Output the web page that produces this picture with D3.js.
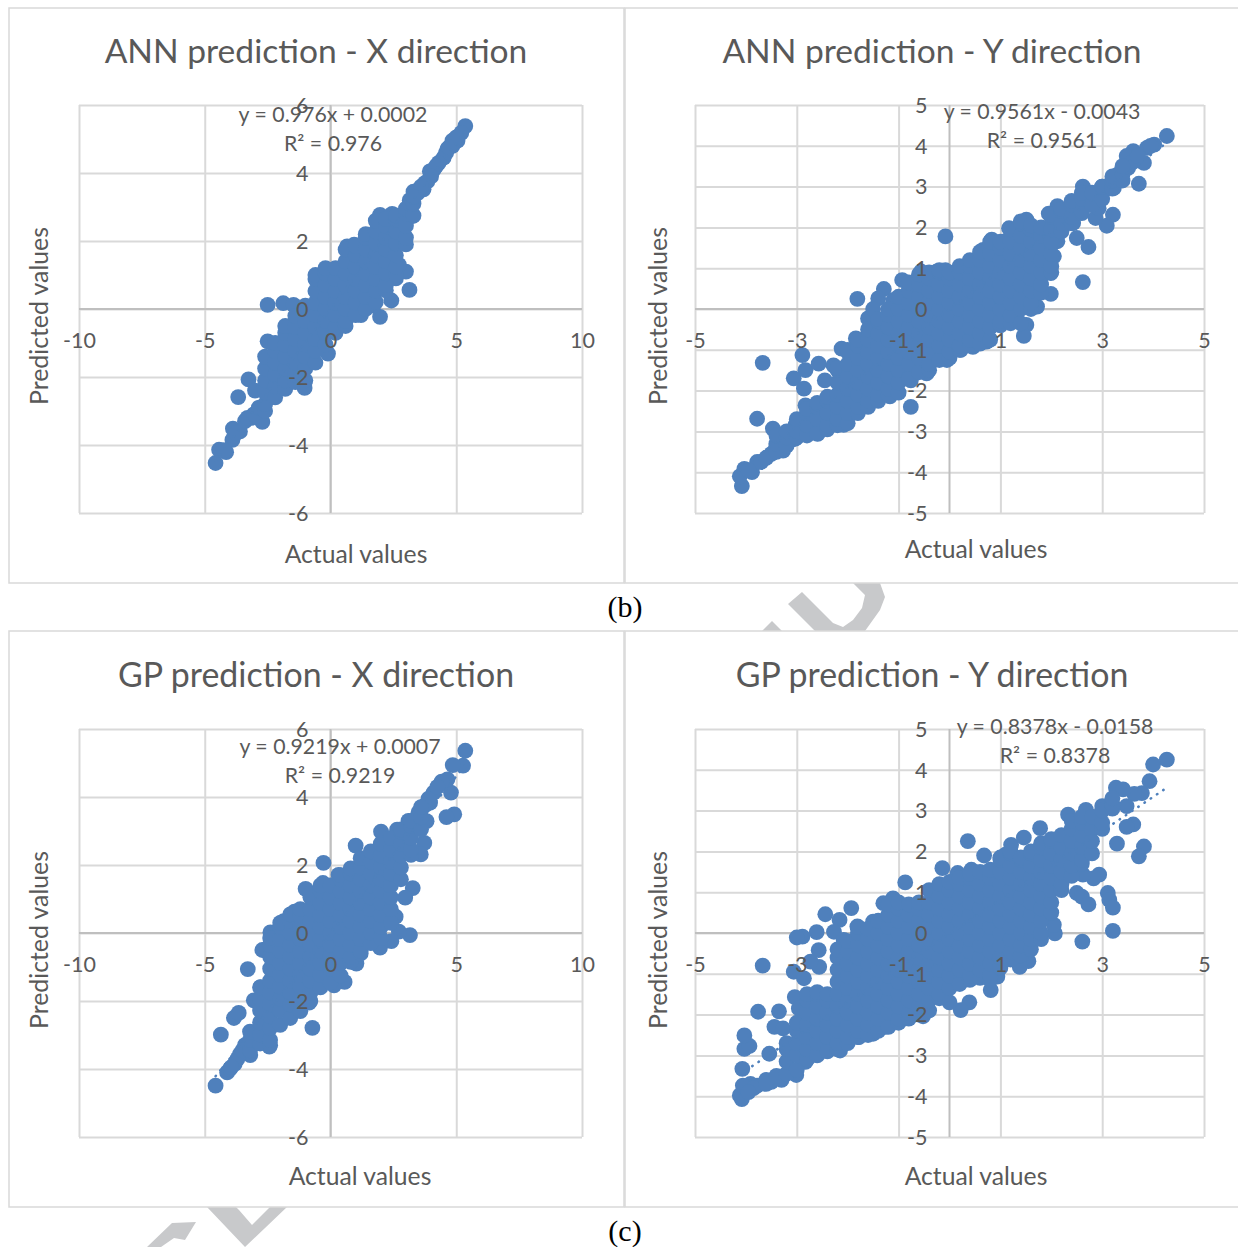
<!DOCTYPE html>
<html>
<head>
<meta charset="utf-8">
<title>ANN and GP predictions</title>
<script src="https://cdn.jsdelivr.net/npm/d3@7"></script>
<style>
  html, body { margin: 0; background: #fff; }
  svg { display: block; }
  text { font-family: Lato, "Open Sans", sans-serif; fill: #595959; }
  .caption { font-family: "Liberation Serif", serif; fill: #000; font-size: 30px; }
</style>
</head>
<body>
<script>
// tick labels
var wideTicks = [-10, -5, 0, 5, 10];
var wideRows = [-6, -4, -2, 0, 2, 4, 6];
var narrowTicks = [-5, -3, -1, 1, 3, 5];
var narrowRows = [-5, -4, -3, -2, -1, 0, 1, 2, 3, 4, 5];

// dense part of each cloud, one row per actual value: [actual, predicted, predicted, ...]
// stray dots and the rim are kept apart as [actual, predicted]
var annXCore = [
  [-2.6,-3.0,-2.8,-2.45,-2.1,-1.75,-1.4],
  [-2.2,-2.6,-2.28,-1.93,-1.58,-1.23,-1.0],
  [-1.8,-2.35,-2.1,-1.75,-1.4,-1.05,-0.7,-0.5],
  [-1.4,-2.15,-1.93,-1.58,-1.23,-0.88,-0.53,-0.2],
  [-1.0,-2.1,-1.75,-1.4,-1.05,-0.7,-0.35,0,0.1],
  [-0.6,-1.58,-1.23,-0.88,-0.53,-0.18,0.18,0.53,0.88,1.0],
  [-0.2,-1.05,-0.7,-0.35,0,0.35,0.7,1.05,1.2],
  [0.2,-0.7,-0.53,-0.18,0.18,0.53,0.88,1.2],
  [0.6,-0.5,-0.35,0,0.35,0.7,1.05,1.4,1.75],
  [1.0,-0.18,0.18,0.53,0.88,1.23,1.58,1.85],
  [1.4,0,0.35,0.7,1.05,1.4,1.75,2.1,2.2],
  [1.8,0.2,0.53,0.88,1.23,1.58,1.93,2.28,2.6],
  [2.2,0.55,0.7,1.05,1.4,1.75,2.1,2.45,2.65],
  [2.6,1.0,1.23,1.58,1.93,2.28,2.63,2.75],
  [3.0,1.9,2.1,2.45,2.8,2.95],
  [3.3,2.75,3.1,3.3]
];
var annXStray = [
  [5.36,5.38],[5.2,5.18],[5.05,4.95],[4.85,4.95],[4.85,4.8],[4.65,4.7],[4.6,4.6],[4.5,4.45],
  [4.3,4.3],[4.1,4.1],[3.95,4.05],[3.85,3.75],[3.75,3.7],[3.7,3.52],[3.5,3.5],[3.45,3.4],[3.3,3.45],
  [3.28,2.74],[3.14,0.56],[2.42,0.25],[1.97,-0.23],[1.7,0.1],[1.21,-0.18],[3.0,1.1],[2.72,1.3],
  [2.6,0.9],[2.18,0.65],[-2.5,0.12],[-1.88,0.17],[-1.47,0.12],[-2.5,-0.95],[-3.26,-2.07],
  [-3.67,-2.59],[-3.0,-2.4],[-2.71,-3.32],[-1.03,-2.32],[-0.1,-1.31],[-4.57,-4.53],[-4.43,-4.14],
  [-4.15,-4.21],[-3.88,-3.52],[-3.9,-3.85],[-3.6,-3.6],[-3.4,-3.3],[-3.15,-3.2],[1.97,2.77],[2.45,2.8],
  [0.66,1.84],[0.94,1.89],[-4.25,-4.15],[-3.75,-3.65],[-3.3,-3.2],[-3.05,-3.1],[-2.85,-2.9],
  [5.0,5.05],[4.7,4.75],[4.2,4.2],[4.0,3.9],[3.6,3.6],[3.15,3.2]
];

var annYCore = [
  [-3.4,-3.5,-3.3,-3.1],[-3.2,-3.35,-3.15,-3.0],[-3.0,-3.15,-3,-2.7],[-2.8,-3.1,-2.85,-2.55,-2.45],
  [-2.6,-3.05,-2.7,-2.4,-2.3],[-2.4,-2.95,-2.85,-2.55,-2.25,-2.15],
  [-2.2,-2.85,-2.7,-2.4,-2.1,-1.8,-1.5,-1.45],
  [-2.0,-2.8,-2.55,-2.25,-1.95,-1.65,-1.35,-1.05,-1.0],
  [-1.8,-2.55,-2.4,-2.1,-1.8,-1.5,-1.2,-0.9,-0.75],
  [-1.6,-2.4,-2.25,-1.95,-1.65,-1.35,-1.05,-0.75,-0.5],
  [-1.4,-2.25,-2.1,-1.8,-1.5,-1.2,-0.9,-0.6,-0.3,-0.25],
  [-1.2,-2.1,-1.95,-1.65,-1.35,-1.05,-0.75,-0.45,-0.15,0],
  [-1.0,-2.05,-1.8,-1.5,-1.2,-0.9,-0.6,-0.3,0,0.3],
  [-0.8,-1.7,-1.35,-1.05,-0.75,-0.45,-0.15,0.15,0.45,0.65],
  [-0.6,-1.55,-1.2,-0.9,-0.6,-0.3,0,0.3,0.6,0.85],
  [-0.4,-1.5,-1.35,-1.05,-0.75,-0.45,-0.15,0.15,0.45,0.75,0.9],
  [-0.2,-1.25,-0.9,-0.6,-0.3,0,0.3,0.6,0.9,0.95],
  [0,-1.2,-1.05,-0.75,-0.45,-0.15,0.15,0.45,0.75,0.9],
  [0.2,-1.0,-0.9,-0.6,-0.3,0,0.3,0.6,0.9,1.05],
  [0.4,-0.9,-0.75,-0.45,-0.15,0.15,0.45,0.75,1.05,1.2],
  [0.6,-0.85,-0.6,-0.3,0,0.3,0.6,0.9,1.2,1.4],
  [0.8,-0.75,-0.45,-0.15,0.15,0.45,0.75,1.05,1.35,1.65],
  [1.0,-0.4,-0.3,0,0.3,0.6,0.9,1.2,1.5,1.65],
  [1.2,-0.35,-0.15,0.15,0.45,0.75,1.05,1.35,1.65,1.95],
  [1.4,-0.35,0,0.3,0.6,0.9,1.2,1.5,1.8,2.1,2.15],
  [1.6,0,0.15,0.45,0.75,1.05,1.35,1.65,1.95,2.05],
  [1.8,0.4,0.6,0.9,1.2,1.5,1.8,2.0],
  [2.0,0.9,1.05,1.35,1.65,1.95,2.25,2.3],
  [2.2,1.9,2.1,2.4,2.45],[2.4,2.1,2.25,2.55,2.65],[2.6,2.35,2.4,2.7,2.85],[2.8,2.55,2.85],
  [3.0,2.7,3.0],[3.2,2.95,3.15,3.25],[3.4,3.15,3.3,3.5]
];
var annYStray = [
  [4.27,4.24],[4.02,4.03],[3.88,3.95],[3.61,3.87],[3.48,3.75],[3.82,3.58],[3.72,3.07],[3.51,3.46],
  [3.31,3.3],[3.23,2.97],[3.21,2.31],[3.09,2.04],[2.87,2.23],[2.93,2.47],[2.62,3.0],[2.73,2.8],
  [2.97,2.84],[2.5,2.64],[2.12,2.52],[1.95,2.34],[2.43,2.11],[2.5,1.74],[2.73,1.52],[2.62,0.66],
  [1.99,0.37],[1.72,0.06],[1.51,-0.39],[1.46,-0.66],[0.73,-0.8],[0.46,-0.93],[0.22,-1.0],[-0.05,-1.25],
  [-0.45,-1.58],[-0.76,-1.75],[-0.76,-2.4],[-1.17,-2.14],[-1.47,-2.24],[-1.88,-2.52],[-2.08,-2.84],
  [-2.59,-3.06],[-3.03,-3.18],[-3.27,-3.47],[-3.5,-3.55],[-3.7,-3.75],[-3.88,-4.0],[-4.08,-4.34],
  [-4.12,-4.1],[-4.03,-3.92],[-3.78,-3.75],[-3.47,-2.93],[-3.35,-3.1],[-3.78,-2.69],[-3.67,-1.32],
  [-2.89,-1.13],[-3.06,-1.7],[-2.83,-1.5],[-2.86,-1.95],[-2.57,-1.34],[-2.45,-1.75],[-2.83,-2.36],
  [-3.03,-2.85],[-2.28,-1.38],[-2.12,-0.97],[-1.84,-0.72],[-1.6,-0.23],[-1.81,0.25],[-1.29,0.49],
  [-1.4,0.26],[-1.5,0],[-1.1,0.22],[-0.93,0.71],[-0.56,0.92],[-0.25,0.92],[-0.08,0.95],[-0.08,1.78],
  [0.26,1.04],[0.66,1.45],[0.83,1.7],[1.1,1.66],[1.17,1.98],[1.51,2.19],[1.75,1.94],[2.12,1.66],
  [2.05,1.29],[1.99,0.88],[1.78,0.71],[3.0,3.0],[3.6,3.6],[2.2,2.2],[-3.95,-3.95],[-3.6,-3.65],
  [-3.4,-3.35],[-3.1,-3.2],[3.7,3.75],[3.95,4.0]
];

var gpXCore = [
  [-3.2,-3.45,-3.15,-2.9],
  [-2.8,-3.25,-2.98,-2.63,-2.28,-1.93,-1.6],
  [-2.4,-3.3,-3.15,-2.8,-2.45,-2.1,-1.75,-1.4,-1.05,-0.7,-0.35,-0.15],
  [-2.0,-2.7,-2.28,-1.93,-1.58,-1.23,-0.88,-0.53,-0.18,0.18,0.3],
  [-1.6,-2.5,-2.1,-1.75,-1.4,-1.05,-0.7,-0.35,0,0.35,0.55],
  [-1.2,-2.3,-1.93,-1.58,-1.23,-0.88,-0.53,-0.18,0.18,0.53,0.7],
  [-0.8,-2.0,-1.75,-1.4,-1.05,-0.7,-0.35,0,0.35,0.7,1.05,1.15],
  [-0.4,-1.6,-1.23,-0.88,-0.53,-0.18,0.18,0.53,0.88,1.23,1.4],
  [0,-1.45,-1.05,-0.7,-0.35,0,0.35,0.7,1.05,1.4],
  [0.4,-1.25,-0.88,-0.53,-0.18,0.18,0.53,0.88,1.23,1.58,1.7],
  [0.8,-0.85,-0.7,-0.35,0,0.35,0.7,1.05,1.4,1.75,1.9],
  [1.2,-0.6,-0.53,-0.18,0.18,0.53,0.88,1.23,1.58,1.93,2.2],
  [1.6,-0.3,0,0.35,0.7,1.05,1.4,1.75,2.1,2.4],
  [2.0,-0.15,0.18,0.53,0.88,1.23,1.58,1.93,2.28,2.63],
  [2.4,0.3,0.7,1.05,1.4,1.75,2.1,2.45,2.8],
  [2.8,1.58,1.93,2.28,2.63,2.98,3.05],
  [3.2,2.3,2.45,2.8,3.15,3.3],
  [3.6,3.05,3.4,3.7]
];
var gpXStray = [
  [5.36,5.36],[5.27,4.92],[4.86,4.94],[4.79,4.13],[4.92,3.49],[4.61,3.41],[4.65,4.52],[4.42,4.45],
  [4.1,4.13],[3.96,3.83],[3.73,2.65],[3.59,2.31],[3.82,3.29],[3.27,1.32],[2.97,1.04],[2.59,0.48],
  [3.16,-0.06],[2.72,0.04],[2.42,-0.24],[1.97,-0.43],[1.49,-0.26],[1.03,-0.9],[0.56,-1.44],[0.14,-1.54],
  [-0.72,-2.79],[-2.43,-3.34],[-3.19,-3.59],[-4.36,-2.99],[-3.84,-2.5],[-3.65,-2.35],[-3.29,-1.06],
  [-2.61,-0.5],[-2.39,0.02],[-1.86,0.35],[-1.43,0.63],[-0.99,1.3],[-0.28,2.06],[-0.3,1.47],[0.32,1.71],
  [1.0,2.57],[2.01,2.98],[2.65,3.04],[3.1,3.3],[-4.57,-4.49],[-4.11,-4.1],[-3.81,-3.85],[-3.6,-3.56],
  [-3.4,-3.3],[3.9,3.95],[3.5,3.55],[-0.85,-2.05],[-3.05,-1.98],[-2.78,-1.59],[-2.71,-0.5],
  [-4.0,-4.0],[-3.7,-3.7],[-3.5,-3.45],[-3.95,-3.95],[4.25,4.3],[3.75,3.75]
];

var gpYCore = [
  [-3.6,-3.7],[-3.4,-3.5],
  [-3.2,-3.45,-3.15,-2.85,-2.7],
  [-3.0,-3.35,-3,-2.7,-2.4,-2.2],
  [-2.8,-3.1,-2.85,-2.55,-2.25,-1.95,-1.65,-1.5],
  [-2.6,-3.0,-2.7,-2.4,-2.1,-1.8,-1.5,-1.45],
  [-2.4,-2.9,-2.55,-2.25,-1.95,-1.65,-1.5],
  [-2.2,-2.85,-2.7,-2.4,-2.1,-1.8,-1.5,-1.2,-0.9,-0.6,-0.4],
  [-2.0,-2.7,-2.55,-2.25,-1.95,-1.65,-1.35,-1.05,-0.75,-0.45,-0.2],
  [-1.8,-2.55,-2.4,-2.1,-1.8,-1.5,-1.2,-0.9,-0.6,-0.3,0,0.15],
  [-1.6,-2.5,-2.25,-1.95,-1.65,-1.35,-1.05,-0.75,-0.45,-0.15,0.1],
  [-1.4,-2.4,-2.1,-1.8,-1.5,-1.2,-0.9,-0.6,-0.3,0,0.3],
  [-1.2,-2.3,-1.95,-1.65,-1.35,-1.05,-0.75,-0.45,-0.15,0.15,0.45,0.7],
  [-1.0,-2.2,-2.1,-1.8,-1.5,-1.2,-0.9,-0.6,-0.3,0,0.3,0.6,0.75],
  [-0.8,-2.1,-1.95,-1.65,-1.35,-1.05,-0.75,-0.45,-0.15,0.15,0.45,0.7],
  [-0.6,-2.0,-1.8,-1.5,-1.2,-0.9,-0.6,-0.3,0,0.3,0.6,0.75],
  [-0.4,-1.9,-1.65,-1.35,-1.05,-0.75,-0.45,-0.15,0.15,0.45,0.75,1.05],
  [-0.2,-1.6,-1.5,-1.2,-0.9,-0.6,-0.3,0,0.3,0.6,0.9,1.2],
  [0,-1.7,-1.35,-1.05,-0.75,-0.45,-0.15,0.15,0.45,0.75,1.05,1.25],
  [0.2,-1.25,-0.9,-0.6,-0.3,0,0.3,0.6,0.9,1.2,1.35],
  [0.4,-1.15,-1.05,-0.75,-0.45,-0.15,0.15,0.45,0.75,1.05,1.35,1.45],
  [0.6,-1.1,-0.9,-0.6,-0.3,0,0.3,0.6,0.9,1.2,1.5],
  [0.8,-1.15,-1.05,-0.75,-0.45,-0.15,0.15,0.45,0.75,1.05,1.35,1.55],
  [1.0,-0.85,-0.6,-0.3,0,0.3,0.6,0.9,1.2,1.5,1.8,1.85],
  [1.2,-0.65,-0.45,-0.15,0.15,0.45,0.75,1.05,1.35,1.65,1.95,2.0],
  [1.4,-0.55,-0.3,0,0.3,0.6,0.9,1.2,1.5,1.8,1.85],
  [1.6,-0.4,-0.15,0.15,0.45,0.75,1.05,1.35,1.65,1.95,2.0],
  [1.8,-0.15,0,0.3,0.6,0.9,1.2,1.5,1.8,2.1,2.2],
  [2.0,0.5,0.75,1.05,1.35,1.65,1.95,2.25,2.3],
  [2.2,1.05,1.2,1.5,1.8,2.1,2.4],
  [2.4,1.4,1.65,1.95,2.25,2.55,2.75],
  [2.6,1.7,1.8,2.1,2.4,2.7,2.85],
  [2.8,1.95,2.25,2.55,2.85],
  [3.0,2.55,2.7,3.0],
  [3.2,3.05,3.15,3.3]
];
var gpYStray = [
  [4.27,4.25],[4.0,4.13],[3.93,3.72],[3.78,3.43],[3.63,3.41],[3.27,3.56],[3.41,3.52],[3.48,3.11],
  [3.61,2.66],[3.48,2.6],[3.29,2.19],[3.82,2.12],[3.72,1.88],[2.94,1.43],[2.83,1.34],[2.62,1.43],
  [2.5,0.98],[2.6,0.89],[2.73,0.7],[3.11,0.98],[3.14,0.81],[3.21,0.62],[3.21,0.05],[2.61,-0.21],
  [2.07,-0.01],[2.05,0.2],[1.55,-0.69],[1.38,-0.83],[0.94,-1.07],[0.81,-1.4],[0.39,-1.7],[0.22,-1.89],
  [-0.52,-2.04],[-1.27,-2.3],[-1.5,-2.47],[-1.78,-2.55],[-2.15,-2.88],[-2.39,-2.88],[-2.83,-3.16],
  [-3.01,-3.48],[-3.37,-3.53],[-3.78,-3.74],[-3.91,-3.7],[-4.08,-4.07],[-4.12,-3.98],[-4.06,-3.74],
  [-4.07,-3.33],[-4.03,-2.84],[-3.93,-2.77],[-4.03,-2.51],[-3.76,-1.93],[-3.35,-1.92],[-3.44,-2.3],
  [-3.67,-0.8],[-3.06,-0.95],[-3.04,-1.57],[-2.96,-1.85],[-2.89,-0.09],[-3.0,-0.11],[-2.61,0.02],
  [-2.44,0.46],[-1.93,0.61],[-2.16,0.32],[-2.27,0.03],[-2.57,-0.42],[-2.56,-0.83],[-2.73,-0.7],
  [-2.86,-1.11],[-1.81,0.16],[-2.08,-0.17],[-1.5,0.28],[-1.3,0.73],[-1.11,0.85],[-0.87,1.24],
  [-0.14,1.59],[0.16,1.47],[0.43,1.55],[0.36,2.25],[0.68,1.9],[1.21,2.16],[1.1,1.92],[1.46,2.34],
  [1.78,2.57],[2.33,2.9],[2.68,3.02],[3.0,3.11],[2.19,2.37],[-3.54,-2.96],[-3.27,-2.34],[-3.6,-3.6],
  [-3.85,-3.8],[-3.5,-3.65],[-3.95,-3.9],[-3.3,-3.6]
];

// the four charts, in reading order
var panels = [
  { title: 'ANN prediction - X direction', core: annXCore, stray: annXStray,
    slope: 0.976, intercept: 0.0002, eq: 'y = 0.976x + 0.0002', r2: 'R\u00b2 = 0.976',
    xTicks: wideTicks, xMax: 10, yTicks: wideRows, yMax: 6,
    left: 79, right: 582, top: 105, eqX: 333, eqY: 115, xTitleX: 356, xTitleY: 554, titleY: 51, titleSize: 33.6 },
  { title: 'ANN prediction - Y direction', core: annYCore, stray: annYStray,
    slope: 0.9561, intercept: -0.0043, eq: 'y = 0.9561x - 0.0043', r2: 'R\u00b2 = 0.9561',
    xTicks: narrowTicks, xMax: 5, yTicks: narrowRows, yMax: 5,
    left: 695, right: 1204, top: 105, eqX: 1042, eqY: 112, xTitleX: 976, xTitleY: 549, titleY: 51, titleSize: 33.6 },
  { title: 'GP prediction - X direction', core: gpXCore, stray: gpXStray,
    slope: 0.9219, intercept: 0.0007, eq: 'y = 0.9219x + 0.0007', r2: 'R\u00b2 = 0.9219',
    xTicks: wideTicks, xMax: 10, yTicks: wideRows, yMax: 6,
    left: 79, right: 582, top: 729, eqX: 340, eqY: 747, xTitleX: 360, xTitleY: 1176, titleY: 675, titleSize: 33.9 },
  { title: 'GP prediction - Y direction', core: gpYCore, stray: gpYStray,
    slope: 0.8378, intercept: -0.0158, eq: 'y = 0.8378x - 0.0158', r2: 'R\u00b2 = 0.8378',
    xTicks: narrowTicks, xMax: 5, yTicks: narrowRows, yMax: 5,
    left: 695, right: 1204, top: 729, eqX: 1055, eqY: 727, xTitleX: 976, xTitleY: 1176, titleY: 675, titleSize: 33.9 }
];

var svg = d3.select('body').append('svg')
  .attr('width', 1238)
  .attr('height', 1247);

// bits of the grey watermark that show between the charts
var watermark = svg.append('g').attr('fill', '#c8c9cb');
[
  'M853,583 L865,595 L862,608 L853,620 L843,627 L833,623 L802,592 L788,604 L815,631 L865,631 L880,610 L885,597 L880,583 Z',
  'M762,631 L772,621 L782,631 Z',
  'M207,1207 L245,1247 L287,1207 L270,1207 L252,1225 L239,1210 L236,1207 Z',
  'M147,1247 L172,1223 L196,1222 L185,1240 L174,1238 L161,1247 Z'
].forEach(function(d) {
  watermark.append('path').attr('d', d);
});

// frames
var frameColor = '#d9d9d9';
[[9, 8, 615, 575], [625, 8, 620, 575], [9, 631, 615, 576], [625, 631, 620, 576]].forEach(function(f) {
  svg.append('rect')
    .attr('x', f[0]).attr('y', f[1])
    .attr('width', f[2]).attr('height', f[3])
    .attr('fill', 'none')
    .attr('stroke', frameColor)
    .attr('stroke-width', 1.5);
});

panels.forEach(function(p) {
  var height = 408;
  var x = d3.scaleLinear().domain([-p.xMax, p.xMax]).range([p.left, p.right]);
  var y = d3.scaleLinear().domain([-p.yMax, p.yMax]).range([p.top + height, p.top]);
  var g = svg.append('g');

  // gridlines
  g.append('g')
    .attr('class', 'grid')
    .attr('transform', 'translate(0,' + (p.top + height) + ')')
    .call(d3.axisBottom(x).tickValues(p.xTicks).tickSize(-height).tickFormat(''));
  g.append('g')
    .attr('class', 'grid')
    .attr('transform', 'translate(' + p.left + ',0)')
    .call(d3.axisLeft(y).tickValues(p.yTicks).tickSize(-(p.right - p.left)).tickFormat(''));
  g.selectAll('.grid .domain').remove();
  g.selectAll('.grid line').attr('stroke', frameColor).attr('stroke-width', 2);

  // the axes cross at zero
  g.append('line')
    .attr('x1', x(0)).attr('x2', x(0))
    .attr('y1', p.top).attr('y2', p.top + height)
    .attr('stroke', '#bfbfbf').attr('stroke-width', 2);
  g.append('line')
    .attr('x1', p.left).attr('x2', p.right)
    .attr('y1', y(0)).attr('y2', y(0))
    .attr('stroke', '#bfbfbf').attr('stroke-width', 2);

  // dots
  var points = p.stray.slice();
  p.core.forEach(function(row) {
    row.slice(1).forEach(function(v) { points.push([row[0], v]); });
  });
  g.append('g')
    .selectAll('circle')
    .data(points)
    .join('circle')
    .attr('cx', function(d) { return x(d[0]); })
    .attr('cy', function(d) { return y(d[1]); })
    .attr('r', 7.9)
    .attr('fill', '#4f80bc');

  // dotted trendline over the whole x range of the dots
  var xs = d3.extent(points, function(d) { return d[0]; });
  g.append('line')
    .attr('x1', x(xs[0])).attr('y1', y(p.slope * xs[0] + p.intercept))
    .attr('x2', x(xs[1])).attr('y2', y(p.slope * xs[1] + p.intercept))
    .attr('stroke', '#4f80bc')
    .attr('stroke-width', 2.5)
    .attr('stroke-linecap', 'round')
    .attr('stroke-dasharray', '0.5,7');

  // tick labels sit on top of the dots
  var xAxis = g.append('g')
    .attr('transform', 'translate(0,' + y(0) + ')')
    .call(d3.axisBottom(x).tickValues(p.xTicks).tickSize(0).tickPadding(24).tickFormat(String));
  var yAxis = g.append('g')
    .attr('transform', 'translate(' + x(0) + ',0.5)')
    .call(d3.axisLeft(y).tickValues(p.yTicks).tickSize(0).tickPadding(22).tickFormat(String));
  [xAxis, yAxis].forEach(function(a) {
    a.select('.domain').remove();
    a.selectAll('text').style('font-size', '21.5px').attr('fill', '#595959');
    a.attr('font-family', null);
  });

  // titles
  g.append('text')
    .attr('x', 316 + (p.left > 500 ? 616 : 0)).attr('y', p.titleY)
    .attr('dy', '.35em')
    .attr('text-anchor', 'middle')
    .style('font-size', p.titleSize + 'px')
    .text(p.title);
  g.append('text')
    .attr('x', p.xTitleX).attr('y', p.xTitleY + 1)
    .attr('dy', '.32em')
    .attr('text-anchor', 'middle')
    .style('font-size', '24.7px')
    .text('Actual values');
  g.append('text')
    .attr('transform', 'translate(' + (p.left > 500 ? 658 : 39) + ',' + (p.top + 211) + ') rotate(-90)')
    .attr('dy', '.35em')
    .attr('text-anchor', 'middle')
    .style('font-size', '24.8px')
    .text('Predicted values');

  // trendline equation
  g.append('text')
    .attr('x', p.eqX).attr('y', p.eqY)
    .attr('dy', '.35em')
    .attr('text-anchor', 'middle')
    .style('font-size', '21.3px')
    .text(p.eq);
  g.append('text')
    .attr('x', p.eqX).attr('y', p.eqY + 29)
    .attr('dy', '.35em')
    .attr('text-anchor', 'middle')
    .style('font-size', '21.3px')
    .text(p.r2);
});

// captions under each row
svg.append('text').attr('class', 'caption').attr('x', 625).attr('y', 617).attr('text-anchor', 'middle').text('(b)');
svg.append('text').attr('class', 'caption').attr('x', 625).attr('y', 1241).attr('text-anchor', 'middle').text('(c)');
</script>
</body>
</html>
